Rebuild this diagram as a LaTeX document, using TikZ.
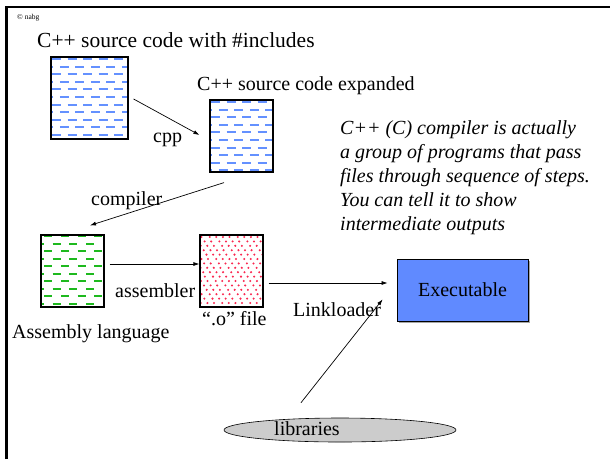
\documentclass[tikz,border=0pt]{standalone}
\usepackage{fontspec}
\setmainfont{Liberation Serif}
\usetikzlibrary{arrows.meta,calc,shapes.geometric,shadows}
\definecolor{dashblue}{RGB}{100,145,255}
\definecolor{dashgreen}{RGB}{30,185,30}
\definecolor{dotred}{RGB}{250,40,80}
\definecolor{exeblue}{RGB}{96,138,255}
\tikzset{
  filebox/.style={draw=black, line width=1.2pt, minimum width=#1, inner sep=0pt},
  lbl/.style={anchor=base west, inner sep=0pt, font=\fontsize{20}{24}\selectfont},
  conn/.style={line width=0.7pt, -{Latex[length=6pt,width=4pt]}},
  bluedash/.style={path picture={
    \foreach \i in {0,...,10}{
      \pgfmathsetmacro{\ph}{mod(\i,2)*7.75+15.5-1}
      \pgfmathsetmacro{\yy}{-(2+7.6*\i)}
      \draw[dashblue, line width=2pt, dash pattern=on 9pt off 6.5pt, dash phase=\ph pt]
        ([yshift=\yy pt]path picture bounding box.north west) -- ++(120,0);
    }}},
  greendash/.style={path picture={
    \foreach \i in {0,...,9}{
      \pgfmathsetmacro{\ph}{mod(\i,2)*8.35+16.7-3.3}
      \pgfmathsetmacro{\yy}{-(1+7.5*\i)}
      \draw[dashgreen, line width=2pt, dash pattern=on 8pt off 8.7pt, dash phase=\ph pt]
        ([yshift=\yy pt]path picture bounding box.north west) -- ++(120,0);
    }}},
  reddots/.style={path picture={
    \foreach \j in {0,...,16}{
      \foreach \k in {0,...,11}{
        \pgfmathsetmacro{\xx}{1.5+7*\k+mod(\j,2)*3.5-0.8*\j+mod(\k*3+\j*5,4)*0.4}
        \pgfmathsetmacro{\yy}{-(2+4.4*\j)}
        \fill[dotred] ([xshift=\xx pt, yshift=\yy pt]path picture bounding box.north west) circle (1.15pt);
      }
    }}},
}
\begin{document}
\begin{tikzpicture}[x=1pt,y=-1pt]
\useasboundingbox (0,0) rectangle (610,459);
% slide border
\draw[line width=2.6pt] (6.2,459) -- (6.2,7) -- (610,7);
% copyright
\node[anchor=west, inner sep=0pt, font=\fontsize{7.5}{9}\selectfont] (copy) at (17,18) {© nabg};
% titles
\node[lbl, font=\fontsize{21.5}{24}\selectfont] (t1) at (37,47) {C++ source code with \#includes};
\node[lbl] (t2) at (197,90) {C++ source code expanded};
% boxes
\node[filebox=77pt, minimum height=82pt, bluedash] (src) at (89.5,98) {};
\node[filebox=63pt, minimum height=72pt, bluedash] (exp) at (241.5,136) {};
\node[filebox=63pt, minimum height=72pt, greendash] (asm) at (72.5,271) {};
\node[filebox=63pt, minimum height=72pt, reddots] (obj) at (231.5,271) {};
\node[draw=black, line width=0.8pt, fill=exeblue, minimum width=131pt, minimum height=62pt,
      drop shadow={shadow xshift=1.5pt, shadow yshift=-1.5pt, fill=gray!70, opacity=1},
      font=\fontsize{20}{24}\selectfont] (exe) at (462.5,290) {Executable};
\node[ellipse, draw=black, line width=0.6pt, fill=black!20, minimum width=232pt, minimum height=24pt,
      inner sep=0pt] (lib) at (340,430) {};
% labels
\node[lbl] (lcpp) at (153,142) {cpp};
\node[lbl] (lcomp) at (91,205) {compiler};
\node[lbl] (lasm) at (115,297) {assembler};
\node[lbl] (lobj) at (202,325) {“.o” file};
\node[lbl] (lasml) at (12,338) {Assembly language};
\node[lbl] (llink) at (293,316) {Linkloader};
\node[lbl] (llib) at (274,435) {libraries};
% italic note
\node[anchor=base west, inner sep=0pt, align=left, font=\fontsize{20}{24}\selectfont\itshape] (note) at (340,230)
  {C++ (C) compiler is actually\\a group of programs that pass\\files through sequence of steps.\\You can tell it to show\\intermediate outputs};
% connectors
\draw[conn] ($(src.east)+(5,1)$) -- ($(exp.west)+(-10,-1)$);
\draw[conn] ($(exp.south)+(-17.5,10)$) -- ($(asm.north)+(17.5,-9)$);
\draw[conn] ($(asm.east)+(5,-7)$) -- ($(obj.west)+(0,-7)$);
\draw[conn] ($(obj.east)+(5,12)$) -- ($(exe.west)+(-9,-7)$);
\draw[conn] ($(lib.north)+(-39,-15)$) -- ($(exe.south west)+(-14,-22)$);
\end{tikzpicture}
\end{document}
